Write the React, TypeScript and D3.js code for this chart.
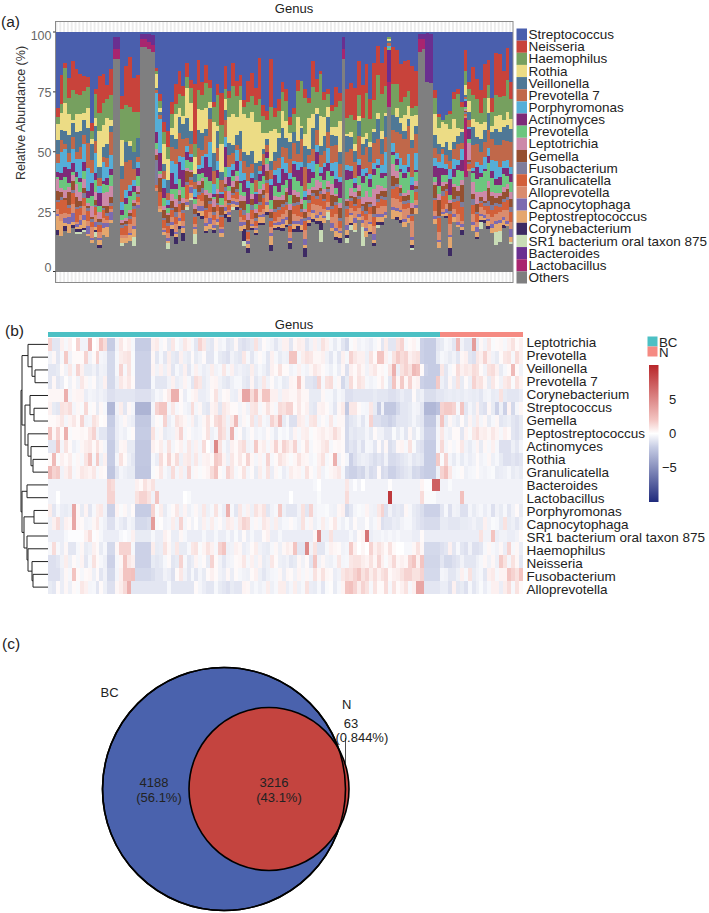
import React, { useEffect, useRef } from "react";
import * as d3 from "d3";

// (a) relative abundance per sample
const streptococcus = [33,18,12,20,10,15,18,18,18,35, 23,17,17,23,13,2,2,25,12,9, 16,16,1,1,1,1,13,18,37,39, 30,21,14,21,11,19,21,12,20,13, 17,27,19,30,10,25,11,19,19,29, 21,18,23,10,27,25,9,33,27,21, 23,30,29,18,19,19,23,10,15,13, 25,22,27,19,24,2,22,21,24,10, 23,11,27,11,5,12,5,2,5,6, 12,11,11,13,14,1,1,0.5,1,22, 31,38,37,30,24,22,25,9,24,12, 19,27,13,11,29,8,8,15,6,20];
const neisseria = [4,12,2,9,10,10,9,6,4,3, 2,14,12,6,9,0,0,5,14,18, 12,14,0,0,0,0,1,2,4,6, 5,8,8,4,5,3,24,13,5,7, 3,2,4,16,7,3,8,6,5,3, 9,10,7,16,4,3,16,4,5,4, 5,3,2,4,0,3,2,9,4,1, 3,2,2,7,3,0,11,13,14,12, 14,10,8,13,10,12,13,0,12,11, 14,14,12,16,13,0,0,0,0,3, 1,0,0,1,3,2,2,11,3,10, 8,11,14,10,6,16,16,10,12,7];
const haemophilus = [3,4,14,7,10,8,8,9,8,3, 10,7,9,8,9,0,0,12,13,12, 14,10,0,0,0,0,1,2,5,5, 6,4,5,8,4,6,5,8,6,10, 5,6,11,9,3,8,10,8,6,3, 7,7,7,9,6,4,8,5,9,8, 8,3,7,10,17,12,5,9,5,14, 7,5,6,7,8,0,6,7,10,7, 8,14,9,10,13,14,9,1,10,8, 6,7,6,3,3,0,0,0,0,6, 4,1,4,6,8,13,8,7,6,8, 9,5,10,5,6,8,7,9,12,8];
const rothia = [7,7,11,9,1,7,7,3,8,2, 3,14,9,11,2,0,0,10,0,2, 0,0,0,0,0,0,5,1,8,8, 3,10,3,3,11,11,7,9,9,8, 2,12,2,14,3,11,11,7,14,16, 16,17,17,15,6,2,10,10,2,7, 7,3,0,9,1,4,11,5,2,10, 8,4,3,3,12,0,1,2,3,2, 3,2,2,1,2,3,1,1,0,3, 2,6,5,9,4,0,0,0,0,8, 6,11,8,8,9,3,1,5,5,3, 6,7,3,6,3,5,6,3,5,4];
const veillonella = [6,4,5,8,5,8,7,6,6,6, 6,4,4,6,2,0,0,5,7,5, 6,7,0,0,0,0,1,1,3,5, 5,4,6,6,7,5,3,8,7,3, 4,7,6,4,3,5,3,4,8,4, 5,6,7,2,2,2,3,4,8,8, 4,6,4,5,4,7,2,7,5,3, 6,6,4,3,5,0,6,5,5,5, 5,3,6,4,7,6,7,1,5,5, 4,3,3,3,3,0,0,0,0,5, 4,1,6,4,3,3,4,1,4,6, 3,6,5,7,3,6,5,5,6,5];
const prevotella7 = [4,5,2,4,4,3,5,4,10,5, 5,3,2,4,8,0,0,9,10,9, 4,2,0,0,0,0,1,1,3,3, 6,6,8,7,3,4,3,7,2,7, 8,5,5,6,5,5,4,2,5,5, 6,4,5,2,4,2,3,4,4,4, 6,5,7,3,9,8,3,4,5,4, 5,6,6,6,5,0,5,7,7,8, 6,7,5,7,7,4,5,1,4,7, 9,10,11,11,7,0,0,0,0,4, 3,2,4,3,4,6,2,1,3,8, 7,6,6,7,9,6,8,8,7,10];
const porphyromonas = [4,9,7,3,5,5,8,7,9,4, 8,3,8,5,5,0,0,3,3,2, 2,2,0,0,0,0,14,10,4,2, 5,8,2,5,2,1,3,2,5,1, 9,4,3,1,3,4,2,4,9,3, 3,2,1,1,0,0,2,2,6,5, 4,2,1,3,2,2,2,4,2,2, 2,6,3,6,2,0,2,2,2,2, 3,2,2,2,2,3,7,1,3,2, 4,3,5,3,6,0,0,0,0,3, 2,6,2,4,4,2,4,1,1,1, 2,4,5,3,5,7,4,3,3,3];
const actinomyces = [2,3,4,6,3,2,2,4,3,5, 3,5,1,3,2,0,0,2,2,2, 2,3,0,0,0,0,4,5,4,1, 7,2,6,7,3,2,1,2,2,8, 5,1,3,2,6,4,2,4,1,5, 7,2,4,3,4,2,5,5,4,7, 3,6,5,4,7,1,5,2,4,1, 5,3,2,3,6,0,4,3,2,4, 3,1,3,2,1,2,1,0,1,2, 1,2,2,2,1,0,0,0,0,4, 7,3,3,6,3,2,4,3,5,1, 5,2,1,3,3,2,3,2,3,3];
const prevotella = [1,3,5,2,1,3,4,3,2,4, 5,2,4,3,4,0,0,2,5,5, 3,4,0,0,0,0,2,1,3,2, 2,4,4,4,3,3,2,3,2,5, 4,1,4,3,3,2,2,2,5,2, 4,5,2,3,3,2,3,4,2,4, 3,3,5,4,5,3,2,3,5,2, 4,4,3,2,2,0,7,4,2,3, 6,5,4,5,6,3,4,1,3,2, 5,6,7,5,3,0,0,0,0,2, 3,3,3,2,3,6,3,1,2,3, 5,7,8,7,6,3,3,5,3,4];
const leptotrichia = [5,2,3,2,2,5,4,4,1,4, 3,3,5,6,4,0,0,1,1,1, 1,2,0,0,0,0,2,1,2,1, 3,3,2,2,1,1,2,2,1,2, 2,3,2,1,2,4,2,2,3,2, 3,2,2,2,2,2,1,2,1,2, 2,2,2,2,2,1,2,1,3,2, 2,2,4,1,2,0,1,3,2,2, 3,4,2,6,3,2,1,0,4,2, 1,1,2,2,2,0,0,0,0,1, 2,2,1,1,1,2,2,1,8,4, 5,2,4,3,2,2,1,2,2,3];
const gemella = [4,2,1,6,3,4,2,2,1,1, 2,1,1,3,2,0,0,1,1,1, 1,1,0,0,0,0,2,4,3,3, 3,2,2,3,4,2,2,3,3,5, 1,2,3,4,1,1,2,3,3,4, 4,3,2,3,2,3,2,4,3,2, 4,5,3,2,2,2,2,1,2,1, 2,1,4,2,4,0,2,1,3,2, 1,3,1,3,2,2,2,0,3,2, 2,2,2,2,1,0,0,0,0,5, 6,2,2,3,5,2,6,1,1,2, 3,2,1,5,4,2,3,3,3,3];
const fusobacterium = [1,1,0,1,1,1,1,2,1,1, 1,1,1,1,1,0,0,1,1,1, 1,1,0,0,0,0,9,0,1,1, 1,2,1,1,1,1,1,1,2,1, 1,1,1,1,1,1,1,1,1,2, 1,2,1,1,1,1,1,1,1,1, 1,1,1,1,1,1,1,1,1,1, 1,1,1,1,1,0,1,1,1,1, 2,1,1,1,1,1,1,0,1,1, 1,1,1,1,1,0,0,0,0,1, 1,2,1,1,1,2,2,1,1,2, 1,1,1,2,2,1,1,1,1,2];
const granulicatella = [3,6,5,3,4,5,3,3,4,2, 3,3,3,2,1,0,0,3,3,2, 3,2,0,0,0,0,1,4,3,3, 3,3,3,3,5,2,3,2,3,3, 3,2,2,5,3,2,1,3,3,2, 3,4,2,3,4,3,2,4,3,3, 2,2,3,4,2,3,3,3,2,4, 3,4,3,3,3,0,3,3,2,3, 2,2,3,3,2,3,2,0,3,4, 2,2,2,2,3,0,0,0,0,4, 5,6,6,4,3,5,5,1,2,3, 3,2,2,3,3,3,2,3,4,4];
const alloprevotella = [2,3,2,1,3,1,2,4,2,4, 3,2,2,1,1,0,0,1,1,3, 3,1,0,0,0,0,1,1,1,2, 2,3,2,2,1,1,1,3,2,2, 2,2,3,1,2,1,1,1,2,1, 1,2,1,1,2,3,2,1,2,2, 3,2,3,2,1,3,2,2,3,2, 3,2,2,5,1,0,3,2,3,2, 2,3,3,3,2,3,2,0,3,3, 3,4,3,6,2,0,0,0,0,2, 3,1,2,4,2,3,1,1,1,3, 2,3,2,2,3,3,3,3,4,3];
const capnocytophaga = [1,0,2,3,3,1,2,2,3,1, 2,1,2,2,3,0,0,0,0,1, 1,1,0,0,0,0,0,0,1,1, 1,1,1,1,1,2,1,2,2,1, 2,1,1,2,1,1,1,1,2,1, 1,1,1,1,1,1,1,1,1,2, 1,1,1,1,2,2,1,1,1,1, 1,1,2,1,1,0,2,1,2,1, 1,1,1,2,1,1,1,0,1,1, 1,1,1,1,1,0,0,0,0,1, 1,1,2,1,1,1,1,0,0,1, 2,1,1,1,2,1,1,1,1,3];
const peptostreptococcus = [6,6,1,4,1,1,2,3,1,1, 1,2,3,4,1,0,0,2,2,2, 3,0,0,0,0,0,0,1,1,1, 2,1,2,2,1,2,2,1,2,2, 2,1,1,2,1,1,1,1,2,2, 2,1,1,2,2,2,3,1,1,2, 2,1,2,1,2,1,1,2,1,2, 2,1,1,2,2,0,2,3,3,1, 2,2,3,1,2,2,1,0,3,2, 3,2,2,2,2,0,0,0,0,2, 2,1,1,4,2,1,1,0,0,2, 2,2,1,2,2,3,3,2,1,2];
const corynebacterium = [2,0,2,0,1,1,1,1,0,0, 1,1,0,0,0,0,0,0,0,0, 0,0,0,0,0,0,0,0,0,0, 3,3,1,3,0,0,0,1,1,1, 0,1,0,0,1,2,0,1,0,5, 2,1,1,1,1,1,2,1,1,1, 1,2,1,2,1,3,1,1,1,3, 0,0,0,1,2,0,1,1,0,0, 0,0,1,1,1,1,0,0,0,1, 1,0,0,1,0,0,0,0,0,0, 0,0,1,3,0,0,2,0,0,0, 1,1,1,1,0,0,0,1,0,0];
const sr1Bacterium = [0,0,0,0,0,1,1,1,0,0, 2,0,0,0,0,0,0,1,0,0, 3,0,0,0,0,0,0,0,0,2, 0,0,0,0,1,1,4,0,0,0, 0,0,0,0,0,0,1,0,0,2, 0,0,0,0,0,0,0,0,0,0, 0,0,0,0,0,0,0,0,0,4, 0,3,0,0,0,0,2,2,1,0, 8,0,0,0,1,0,0,0,0,0, 0,0,0,1,0,0,0,0,0,0, 0,0,0,0,0,0,0,0,0,0, 0,3,0,0,0,5,4,0,0,1];
const bacteroides = [0,0,0,0,0,0,0,0,0,0, 0,0,0,0,0,5,5,0,0,0, 0,0,2,2,3,4,0,0,0,0, 0,0,0,0,0,0,0,0,0,0, 0,0,0,0,0,0,0,0,0,0, 0,0,0,0,0,0,0,0,0,0, 0,0,0,0,0,0,0,0,0,0, 0,0,0,0,0,5,0,0,0,0, 0,0,0,0,0,0,0,14,0,0, 0,0,0,0,0,2,2,20,20,0, 0,0,0,0,0,0,0,0,0,0, 0,0,0,0,0,0,0,0,0,0];
const lactobacillus = [0,0,0,0,0,0,0,0,0,0, 0,0,0,0,0,4,4,0,0,0, 0,0,3,3,3,3,0,0,0,0, 0,0,0,0,0,0,0,0,0,0, 0,0,0,0,0,0,0,0,0,0, 0,0,0,0,0,0,0,0,0,0, 0,0,0,0,0,0,0,0,0,0, 0,0,0,0,0,4,0,0,0,0, 0,0,0,0,0,0,0,11,0,0, 0,0,0,0,0,5,4,0,0,0, 0,0,0,0,0,0,0,30,0,0, 0,0,0,0,0,0,0,0,0,0];
const others = [16,15,16,17,15,15,16,16,14,11, 14,9,15,15,17,88,88,10,10,11, 9,24,93,93,90,87,29,17,15,9, 15,11,15,12,22,28,11,24,21,15, 15,15,17,17,16,21,22,24,18,11, 8,18,15,18,17,18,7,18,17,17, 18,8,15,15,15,5,16,17,15,10, 20,20,15,11,11,88,11,17,17,18, 11,12,15,9,15,18,18,72,17,17, 18,17,19,8,21,90,91,78,78,18, 9,24,24,6,20,17,13,48,48,14, 13,20,20,17,17,10,11,17,17,11];

const genusNames = ["Streptococcus", "Neisseria", "Haemophilus", "Rothia", "Veillonella", "Prevotella 7", "Porphyromonas", "Actinomyces", "Prevotella", "Leptotrichia", "Gemella", "Fusobacterium", "Granulicatella", "Alloprevotella", "Capnocytophaga", "Peptostreptococcus", "Corynebacterium", "SR1 bacterium oral taxon 875", "Bacteroides", "Lactobacillus", "Others"];
const genusColors = ["#4a5fad", "#c8433b", "#76a05f", "#ecdc85", "#4f7896", "#c0684a", "#55aed8", "#7e2a78", "#6cc67e", "#cc8aa9", "#955030", "#7e7d9c", "#d2603a", "#da8c6e", "#7c6ab0", "#e5a76e", "#3d2a63", "#c9dcb6", "#6a2f90", "#a8256f", "#7f7f80"];
const genusValues = [streptococcus, neisseria, haemophilus, rothia, veillonella, prevotella7, porphyromonas, actinomyces, prevotella, leptotrichia, gemella, fusobacterium, granulicatella, alloprevotella, capnocytophaga, peptostreptococcus, corynebacterium, sr1Bacterium, bacteroides, lactobacillus, others];
const yTicks = [0, 25, 50, 75, 100];

// (b) z-scored heatmap rows, same sample order as (a)
const heatLeptotrichia = [1.5,-1,-1,.5,-.3,.5,0,1.5,-.5,-.5, 3,0,.3,2,1.2,-2,-2,-.5,.8,.2, .5,-.3,-2,-2,-2,-2,.5,.7,-.3,.2, -.8,.8,-.2,-.5,.8,.4,-.3,-1,1.5,.8, -.8,-1,.3,-.5,-.3,-1,-.8,.3,-1,-1.2, -1,-.8,1,-.7,.2,-.3,-.5,-1,-.5,.5, .5,-1,.3,.6,.5,-1,-.5,.5,-.5,1, .5,-.3,-.8,-.3,-1,-1.5,-.2,.3,-.5,-.3, -.5,-.7,-.3,.2,-1,.6,-1,-1,1,1.5, -.3,.2,.4,-.2,-1.8,-2,-2,-2,-1,-.8, -.3,-.5,-1,2.5,-.5,-1,-1,4,-.8,.3, -.5,.8,-.2,.2,.3,-.3,.5,1,.2,.5];
const heatPrevotella = [-.5,.3,-1,-.3,1.8,-.5,.2,.2,.2,1.5, -.5,.2,1.5,-.4,-.5,-1.5,-1.5,-.3,.6,.8, 1,-.2,-1.8,-1.8,-1.8,-1.8,.3,-1,-.3,-1, .6,-.8,-1,.5,-.6,-.8,.2,-.8,-.5,.2, -1,-1,-.2,-.8,-1,-1.2,-.5,-.8,-1,.8, -.3,-1,-.4,.2,-.3,-1,.5,-.3,-.8,-.5, -.6,2,2,-.3,.6,1,.8,.3,.3,.5, -.5,-1,-.3,-1,.5,-.3,1.5,.8,.5,.5, -.6,1,.2,2,2,.5,-.3,1,1.8,1.2, 1.5,.5,.8,1,-1.8,-2,-2,-2,-.8,-.3, -.5,-.8,-.5,-1,.3,.5,-1,-1.2,.8,.5, 1.5,.5,-.5,-.8,.2,.8,1,-.3,1.2,.5];
const heatVeillonella = [-1,-1,-.8,.2,-.5,.8,-.3,1.5,.5,-.8, -.8,-.5,-1,-.5,-.6,-1.5,-1.5,-.3,1.5,-.3, 1,-.2,-1.8,-1.8,-1.8,-1.8,.4,-.5,.5,-.6, .5,-1,-.3,-.7,.5,-1,-.3,.5,-.4,-.7, -.5,.6,-.5,-.3,.8,-.3,.5,-.7,-.5,-.7, -.8,.6,-.7,-.3,-.6,-1,.5,.2,1,.2, .2,-.5,-.3,.5,-.3,-.5,.3,.8,.5,.2, -.3,-.6,-.2,-.7,.3,-1.2,.5,.2,.8,.3, -.5,.5,.8,.2,.3,-.2,.8,3,-.6,1,1.5, 1,2.5,2,.2,-1.8,-2,-2,-2,.8, -1,-.3,.2,1.2,.5,.8,.6,1.2,1,.2, -.5,1,1.2,.5,-.8,-.3,.2,2.5,.2,-.5];
const heatPrevotella7 = [-1,.3,-1,-.7,.1,-.5,.2,-.5,.8,.3, -.3,.2,-.8,-.6,.5,-1.5,-1.5,-.6,.8,.4, .8,.2,-1.8,-1.8,-1.8,-1.8,-.3,-1,-1,-1, -.5,.5,-.7,-.5,.4,-.3,-1,1.2,.8,-.8, -.5,.3,.4,-.5,-.8,-1,-.6,-.3,-.3,-.8, -1,.4,-1,-.6,.8,-.5,.2,-.6,-.3,-.8, -.7,.4,.3,2,.3,-1,-1,-1.2,1.5,-.3, 1,1.2,-.3,.3,-1.5,-.8,1.2,.2,1,.7, -.3,-.5,-.3,.2,.7,-.2,-1,2,.3,1.8, .3,1.5,.3,.5,-1.8,-2,-2,-2,1.8,-.6, -1,.3,-.7,1,-.8,.2,-.6,1.5,.8,1, .3,-.8,.8,.2,-.5,.7,1,-.2,1,.4];
const heatCorynebacterium = [.3,.3,.3,.3,3,-.4,.3,.4,.4,-.7, -.4,-.5,-.7,-.5,-.7,-1.2,-1.2,-1,-1,-1, -1,-1,-1.2,-1.2,-1.2,-1.2,-.8,-.3,-.5,.2, .7,3,3,.2,-.7,-.2,.3,.5,-.7,-.7, -.5,.2,1,-.5,.2,.3,-.6,-.7,.4,3.5, 3.5,1.2,2.5,.5,2,2,.5,.5,-.5,.5, .5,.3,.3,.8,.3,.3,-.8,-.8,-.8,.3, -.3,-.3,-.8,-.3,-.5,-1.2,-1.2,-1,-1,-1, -1,-1,-.8,-1,-1,-1,-1.2,-1.2,-1,-.7,-1, -1,.2,-.8,-.6,-1.3,-1.3,-1.3,-1,-1, -.8,-.7,-.8,-.7,-.8,-.6,-.7,-.8,-.7,-1, -.5,-.4,-.8,-.7,1,-.8,-1,-1,-1,-.7];
const heatStreptococcus = [.5,-.8,-1,1,.8,1.2,-.4,.3,-.2,1.3, -.2,.2,-.8,.3,-.3,-3,-3,-.5,.6,-1, .3,-.4,-3.2,-3.2,-3.2,-3.2,-.4,1.5,2,2, -.4,.8,-.3,.2,-.4,-.6,1.2,-.4,.3,-.8, -1,.4,.6,-1,.8,.5,.2,.2,-.4,.3, -.5,.8,1,-.3,.3,1,.3,-.3,1.2,1, 1.5,1.5,.2,.8,.2,.5,-.8,-1,.4,.5, .2,-.4,-1,.3,.7,-2.2,.8,.8,.2,-.3, -.4,.8,-.8,-2,-.5,-2.2,-2.2,-2.2,-1.5,-1,-1, -.8,-.4,-.5,-1,-3,-3,-3,-2.5,1.5, 1.8,1.8,1.5,-.3,2,-1,-.4,-.8,.5,-1, -1.2,.3,-.8,-1.8,-.6,-1.8,.4,-1.5,-.4,.3];
const heatGemella = [.2,.2,.4,.8,-.4,.4,.8,.2,1.5,-.5, -.4,1,.6,.1,.2,-2,-2,-.7,-.4,.3, -.5,-.7,-2.2,-2.2,-2.2,-2.2,-.5,.2,-.2,1.5, -.7,-.3,1,.6,.3,-.3,.5,-.8,-.4,.3, 1,.2,1.2,1.5,.8,-.5,.7,2.5,-.5,.3, -.2,1,-.7,.8,-.3,-.5,1.5,.8,2.5,-.8, -.3,-1.2,-1.2,.7,.5,-.4,.8,1,-.4,.2, -.3,.8,-.3,.3,.3,-1.5,-1,-.8,-.4,-1, -.3,1.5,-1.2,-1.2,-1.5,-1.5,-1.8,-1.5,-1,-1,-1, -.8,-.4,-.8,-1,-2.2,-2.2,-2.2,-.6,2, -.8,.3,-.5,-.8,.2,-.8,.4,-.6,.7,-.4, .3,-.8,-.3,.3,-1,-.8,-.6,-1,-1.2,-.8];
const heatPeptostreptococcus = [2,.3,1.5,.2,3,-.2,.2,.2,.3,.2, .8,1.5,-.5,-1,-1,-1.8,-1.8,-.7,-.4,-.6, -.2,.2,-2,-2,-2,-2,1,-.3,.3,-.8, -.6,-.5,.5,1.5,-.3,.2,-.4,-.5,-.4,.2, 1,-.6,-.3,1.5,1,-.5,3,-.3,.2,-.8, -.4,.2,-.5,-.3,-.5,.2,-.3,-.8,-.2,-.4, -.2,-.7,.4,-.3,.5,.6,-.2,.2,.4,.6, .3,.5,1.2,.6,.2,-1.5,-.8,-1,-.8,-.8, -.4,-.8,.2,-.5,-.5,-1,-1,-.2,-.8,-.3,-1, .3,-.8,-.2,-.8,-1.8,-1.8,-1.8,-.4,.8, -.4,-.6,.2,.2,-1,.4,-.2,.8,1.2,.5, .6,.3,.8,.4,-.3,.5,.2,-1,-1.2,-.8];
const heatActinomyces = [-1,-1,2,-.4,1,.2,-.6,-.3,.3,.6, .8,.2,1,.3,-.4,-2,-2,-.8,.3,.4, -.8,-.8,-2.2,-2.2,-2.2,-2.2,.5,.2,.6,-.3, 1,-.4,.2,.5,-.3,.8,-.5,.5,-.4,1.2, 0,-.5,5,1,-.3,-.7,.5,.2,.8,1.2, -.5,-.4,1.8,.3,.6,-.3,.4,1.5,.3,1.5, 1,.5,1.5,-.4,.2,1,-.3,.2,.3,.7, 1,-.3,.2,.3,.2,-1.5,-1,-1.2,-.6,-1.2, -.3,-.4,-1,.2,-1,.3,-1.3,-1,.3,.4,-.3, 1,-.2,-1,-1.2,-2,-2,-2,-.3,1.3, -.4,.2,-.3,.2,.8,-.5,-.8,-.4,.4,-.8, .3,-.3,.5,-.3,-1.2,-1.2,-1.2,-.6,-1,-.4];
const heatRothia = [.2,2.5,-.2,.5,.2,.6,-.2,.3,-.3,.9, 2,-.3,1.8,-.6,.5,-2,-2,-.4,1,.2, -.6,-1,-2.2,-2.2,-2.2,-2.2,-.3,-.7,1.2,.2, 1.5,.3,1.2,-.6,.6,.8,-.5,.8,-.4,.4, .5,.2,1.8,1.5,.4,-.6,.8,.2,.8,.2, 1.5,.3,-.4,.4,-.3,1.5,-.3,.2,1,.6, .3,-.2,.3,1,.4,.3,-.4,-.2,.5,1, -.3,.2,3,-.5,.2,-.4,-1.8,-1.2,-.8,-.6, -.7,-1,-1.3,-1,-1.2,-.5,-1.4,-1.4,-1.2,-1,-.8, -.5,-1,-.8,-1,-2,-2,-2,1.8,-.2, 1.5,-.4,-.8,-.3,-.8,-.4,-.7,-.5,.2,-.5, -.3,.3,-.6,-.3,-.8,-1.2,-1.2,-1,-1.2,-1];
const heatGranulicatella = [2.5,1.5,1.8,-.5,.5,1,-.3,.3,.8,.6, .4,.8,-.3,.3,.2,-2.3,-2.3,-1,-.4,-.6, -.8,-.8,-2.3,-2.3,-2.3,-2.3,-.2,.2,.8,-.3, -.6,1.2,-.4,.6,-.5,1.5,-.3,.3,-.2,.2, .4,1.2,2,.2,-.3,1.5,.8,-.3,.2,1, -.4,.2,-.8,.6,-.3,1,-.7,.3,-.2,-.7, -.4,.6,.3,.4,-.3,1,.2,-.3,.6,-.5, -.2,.3,.5,.8,-.3,-1.5,-1.8,-1.8,-1.4,-1.6, -.8,-1.4,-1.2,.2,-1.4,-1.2,-1.8,-1.8,-1.4,-1.2,-1, -.8,-1.5,-1.4,-1.8,-2,-2,-2,-.6,1.5, 2.2,.8,-.3,-.2,.2,-.6,-.4,-.3,.2,-.4, -.5,-.3,-.2,-.8,-.7,-.6,-.3,-.8,-.6,-.8];
const heatBacteroides = [-.5,-.5,-.5,-.5,-.5,-.5,-.5,-.5,-.5,-.5, -.5,-.5,-.5,-.5,-.5,1.5,1.2,-.5,-.5,-.5, -.5,-.5,.5,.2,1,.5,1,-.5,-.5,-.5, -.5,-.5,-.5,-.5,-.5,-.5,-.5,-.5,-.5,-.5, -.5,-.5,-.5,-.5,-.5,-.5,-.5,-.5,-.5,-.5, -.5,-.5,-.5,-.5,-.5,-.5,-.5,-.5,-.5,-.5, -.5,-.5,-.5,-.5,-.5,-.5,-.5,-.3,0,-.5, -.5,-.5,-.5,-.5,-.5,.8,-.5,-.1,-.5,0, -.5,-.5,-.5,-.5,-.5,-.5,.1,-.5,-.5,-.5,-.5, -.5,-.5,-.5,.4,-.1,-.1,7,7,-.5, -.5,-.2,-.5,-.5,-.5,-.5,-.5,-.5,-.5,-.5, -.5,-.5,-.5,-.5,-.5,-.5,-.5,-.5,-.5,-.5];
const heatLactobacillus = [-.5,-.5,0,-.5,-.5,-.5,-.5,-.5,-.5,-.5, -.5,-.5,-.5,-.5,-.5,1.5,1.5,-.5,-.5,-.5, -.5,-.5,1,1.5,1.5,1,-.5,2,-.5,-.5, -.5,-.5,-.5,-.5,0,-.2,-.5,-.5,-.5,-.5, -.5,-.5,-.5,-.5,-.5,-.5,-.5,-.5,-.5,-.5, -.5,-.5,-.5,-.5,-.5,-.5,-.5,-.5,-.5,-.5, -.5,0,-.5,-.5,-.5,-.5,-.5,-.5,-.2,-.5, -.5,-.5,-.5,-.5,-.5,1.2,-.5,-.5,-.5,-.5, -.5,-.5,-.5,-.5,-.5,-.5,9,-.5,-.5,-.5,-.5, -.5,-.5,-.5,1.2,-.2,-.2,-.2,-.5,-.5, -.5,-.5,-.5,-.5,2.2,-.5,-.5,-.5,-.5,-.5, -.5,-.5,-.5,-.5,-.5,-.5,-.5,-.5,-.5,-.5];
const heatPorphyromonas = [.6,-1,-.3,-.7,-.8,-.6,3.5,.3,-.8,.4, -1,-.3,.6,.8,-.5,-1.8,-1.8,.4,-.2,.3, -.5,.2,-2,-2,-2,-2,1.5,-.2,.6,-.8, -.3,.2,.8,-.5,.4,-.6,-.3,.3,-.5,.8, -.6,-.3,1,-.3,-.7,3,-.3,-1,.8,-.4, .5,-.6,1,.5,1,-1,-.5,-.3,1.8,-.6, -1,-1,-1,-.5,1,-1,1.5,-.5,-.3,-.3, -.2,-.5,-.6,.3,.5,-1.5,-1,-.4,-.2,-.3, .4,-.5,-.6,.8,1.5,-1.2,-.5,-1,-.8,-1,.3, -.3,-.8,-1,-1.3,-1.8,-1.8,-1.8,-1.8,-1, -.3,-1.2,-.5,-.6,-1.2,-1.2,-.4,-.8,-.5,-.3, -.7,-.4,-1.2,-.5,-.8,-.3,-1,-.5,.2,-.8];
const heatCapnocytophaga = [-.6,.5,1.2,-.8,.5,.3,3.5,.3,.2,-.5, -.4,.3,.8,-.3,-.6,-1.2,-1.2,-.4,-.7,-1, -.4,-.6,-1.5,-1.5,-1.5,-1.3,4,-.2,.1,-.5, -.4,.6,-.5,1.5,-.4,.2,-.5,.1,-.6,.5, -.4,.6,-.3,.2,-.5,.7,.5,-.4,.8,1.5, 1.2,-.3,.3,-.3,.8,.5,-.5,.6,-.6,-.3, -.3,.2,-.3,-.6,1,-.3,.4,-.6,-.3,.6, -.4,.2,.8,-.3,-.6,-.2,-.7,.2,-.5,-.5, .1,-.6,-.3,.4,-1.2,-1,-1,-.7,-.8,-.5,-.3, -.3,-.7,-1,-1.2,-1.4,-1.4,-1.4,-1.4,-.8, -.8,-1,-1,-1,-.8,-.8,-.7,-.5,-.8,-.8, .5,-.5,-.2,-.3,-.8,1,-.8,-.6,-1,-.5];
const heatSr1 = [-.7,-.7,-.7,-.7,-.3,-.1,-.1,-.1,-.1,.5, 1.2,-.1,.2,-.3,-.7,-.7,-.7,-.7,-.3,-.1, -.3,.5,-.8,-.8,-.8,-.8,-.3,-.7,-.7,.5, .2,-.7,-.7,.3,-.3,-.7,-.7,-.7,-.7,-.3, -.7,-.7,-.3,-.7,-.7,-.3,-.7,-.2,-.7,.2, -.7,-.3,-.7,-.7,.2,.5,-.7,-.7,-.3,-.7, -.7,-.7,-.7,-.7,-.7,-.7,-.7,.3,5,-.7, -.7,1,-.7,-.7,-.7,-.7,-.3,-.7,.2,.4, 6,-.7,-.5,-.5,-.3,-.5,-.3,-.5,-.3,-.5,-.5, -.5,-.7,-.7,.2,-.7,-.7,-.7,-.7,-.7, -.7,-.7,-.7,-.7,-.7,-.7,-.7,-.7,-.7,1, -.5,-.5,2,-.7,-.5,-.5,-.7,-.7,-.5,.2];
const heatHaemophilus = [-.3,1.2,-.3,-.7,.3,-1,-1,-.3,.3,-.8, -.6,.5,.2,-.8,-.3,-1.5,-1.5,.3,1.5,1.5, 1.5,-.3,-1.8,-1.8,-1.8,-1.8,.6,-.8,-.7,1, .3,-.6,.8,-.8,-.8,-.3,.8,1,-.2,.4, 1,.5,-.3,1.5,2,-.6,-.5,.5,.3,-.7, -.5,.2,.6,-.5,-.7,-.8,-.3,.3,-.6,.3, .6,.4,2,-1,-1,5,-.5,1,-1,-1, -.3,.5,.3,.2,-.5,-.4,1.8,.5,0,.3, 0,1.5,.5,1,.6,.2,1,.2,0,0,-.3, -.3,.3,1,.3,-1.5,-1.5,-1.5,-1.5,-1.2, -1,.5,-1,-.3,-1,-1.2,-.5,-1.2,-1.2,-1, -.3,.3,-.3,-.5,.3,-.7,1.5,-.3,.3,-.7];
const heatNeisseria = [-1.2,-1.2,-1,-.5,.6,-.6,.2,-.3,.4,-1, -.3,1,.2,-.3,-.6,-1.8,-1.8,-.3,.3,2, .8,.5,-1.8,-1.8,-1.8,-1.8,-.8,-1,-.8,-.3, .2,-1,-.8,1.5,-.3,-1,-.7,.4,-.3,.2, -.8,1.5,.2,-.5,-1,-.5,-.4,.2,.3,.8, -.3,.5,-.5,.4,-.8,-.6,.8,.2,-.6,-.7, -.5,-1,-.8,.3,-.5,.2,-1,2,-.5,.3, -.5,-.6,-.3,.8,-.4,-.3,.8,1,1,.6, .4,1,.3,1.5,.5,-.2,.5,1.3,.3,.5,.3, 1.5,2,.5,2,-1.6,-1.6,-1.6,-1.6,-1, -1.5,-1.5,-1.2,-1,-.5,-1,-1,-1,-.6,-.3, .3,-.5,.3,-.6,1.8,1,-.4,1,.3,-1];
const heatFusobacterium = [-1.2,-1.2,-1.2,-.7,.3,-.3,2,.2,-.3,.2, .3,-.6,.2,-1,-.5,-1.5,-1.5,-.4,.5,2, 2,2.2,-1.5,-1.5,-1.5,-1.5,-1.3,-1,-1,-.5, -.7,-1.2,.2,.8,-.5,-1,-.3,-1,-.4,-.8, .2,.5,.2,-.5,-.7,.3,-.7,.2,-.3,-.5, -.6,.2,.5,-.6,-1,-.6,-.4,-.3,.3,-.7, .3,.2,-.5,.4,-.3,.3,-.3,1,.3,1, .3,.2,-.7,-.5,.8,1.2,1,1.5,2,1, 1.5,.6,1.2,.5,1,1.3,.2,.5,.6,1,1.5, 1.5,1,1,1.5,-1.5,-1.5,-1.5,-1.5,-.4, -.5,-1,-1,-.6,.5,-.3,1,-.8,-.5,-.3, -1,.5,.7,-.3,.4,.4,2,1.5,1,2];
const heatAlloprevotella = [-.8,-1,.2,-.7,.3,-.6,.2,-.2,.8,.5, -.4,-.3,-1,.2,-.6,-1.2,-1.2,.3,.6,1.3, 3,-1,-1,-1,-1,-1,-1,-1,-1,-1, -.3,-1,-1,-1,-1,-1,-1,.2,-.4,-.7, -1,-1,-.3,-.8,-1,-1.2,-.8,-1,-1,.4, .3,-.6,-.3,-.6,-.4,.6,-.6,-.3,.6,.6, -.7,-.4,.6,-.6,-.3,1,-.7,-.8,-.3,-1, -.2,.1,-.8,-.3,.4,2,2.2,1.5,.6,1.5, 1,-.3,1,.2,.2,1.2,-.3,1,.2,.5,1, -.3,.5,3.5,3.5,-1,-1,-1,-1,-.7, -.7,-1.2,.5,-1,-.8,-1.2,-.3,-1,-.6,-.2, -.7,-.3,.5,.5,-.7,.6,1.2,-.3,1,.2];

const heatNames = ["Leptotrichia", "Prevotella", "Veillonella", "Prevotella 7", "Corynebacterium", "Streptococcus", "Gemella", "Peptostreptococcus", "Actinomyces", "Rothia", "Granulicatella", "Bacteroides", "Lactobacillus", "Porphyromonas", "Capnocytophaga", "SR1 bacterium oral taxon 875", "Haemophilus", "Neisseria", "Fusobacterium", "Alloprevotella"];
const heatRows = [heatLeptotrichia, heatPrevotella, heatVeillonella, heatPrevotella7, heatCorynebacterium, heatStreptococcus, heatGemella, heatPeptostreptococcus, heatActinomyces, heatRothia, heatGranulicatella, heatBacteroides, heatLactobacillus, heatPorphyromonas, heatCapnocytophaga, heatSr1, heatHaemophilus, heatNeisseria, heatFusobacterium, heatAlloprevotella];
const bcSamples = 99;
const colorTicks = [5, 0, -5];

// row dendrogram, "h" is the merge height
const rowTree = { h: 27, children: [
  { h: 26, children: [
    { h: 20, children: [{ leaf: 0 }, { h: 16, children: [{ leaf: 1 }, { h: 13, children: [{ leaf: 2 }, { leaf: 3 }] }] }] },
    { h: 23, children: [
      { h: 18, children: [{ leaf: 4 }, { h: 14, children: [{ leaf: 5 }, { leaf: 6 }] }] },
      { h: 20, children: [{ leaf: 7 }, { h: 17, children: [{ leaf: 8 }, { h: 15, children: [{ leaf: 9 }, { leaf: 10 }] }] }] },
    ] },
  ] },
  { h: 26, children: [
    { h: 21, children: [{ leaf: 11 }, { leaf: 12 }] },
    { h: 24, children: [
      { h: 14, children: [{ leaf: 13 }, { leaf: 14 }] },
      { h: 21, children: [{ leaf: 15 }, { h: 20, children: [{ leaf: 16 }, { h: 16, children: [{ leaf: 17 }, { h: 15, children: [{ leaf: 18 }, { leaf: 19 }] }] }] }] },
    ] },
  ] },
] };

// (c) Venn counts
const vennLabels = [
  { line1: "4188", line2: "(56.1%)", x1: 154, x2: 159 },
  { line1: "3216", line2: "(43.1%)", x1: 274, x2: 279 },
];

const FONT = "'Liberation Sans', Arial, sans-serif";

const App = () => {
  const ref = useRef<SVGSVGElement>(null);

  useEffect(() => {
    const svg = d3.select(ref.current);
    svg.selectAll("*").remove();
    svg.style("font-family", FONT);

    const label = (t: string, x: number, y: number, size = 13, anchor = "start", fill = "#222") =>
      svg.append("text").text(t).attr("x", x).attr("y", y).attr("font-size", size)
        .attr("text-anchor", anchor).attr("dominant-baseline", "central").attr("fill", fill);

    label("(a)", 1, 21, 15.5);
    label("(b)", 5, 330, 15.5);
    label("(c)", 2, 643, 15.5);

    // ---- (a) stacked bars
    const sampleIds = d3.range(streptococcus.length);
    const x = d3.scaleBand<number>().domain(sampleIds).range([55.5, 513]);
    const y = d3.scaleLinear().domain([0, 1]).range([271.5, 32]);

    label("Genus", 294, 8, 13, "middle");

    // facet strips above and below the bars
    [[21.5, 10.5], [272, 11]].forEach(([top, h]) => {
      svg.append("g").selectAll("rect").data(sampleIds).enter().append("rect")
        .attr("x", d => x(d)!).attr("y", top)
        .attr("width", x.bandwidth() / 2).attr("height", h).attr("fill", "#ececec");
    });

    const order = d3.range(genusNames.length).reverse();
    const stack = d3.stack<number, number>()
      .keys(order)
      .value((d, k) => genusValues[k][d])
      .offset(d3.stackOffsetExpand);
    svg.append("g").attr("shape-rendering", "crispEdges")
      .selectAll("g").data(stack(sampleIds)).enter().append("g")
      .attr("fill", d => genusColors[d.key])
      .selectAll("rect").data(d => d).enter().append("rect")
      .attr("x", d => x(d.data)!)
      .attr("y", d => y(d[1]))
      .attr("width", x.bandwidth() + 0.3)
      .attr("height", d => y(d[0]) - y(d[1]));

    svg.append("rect").attr("x", 55.5).attr("y", 21.5).attr("width", 457.5).attr("height", 261)
      .attr("fill", "none").attr("stroke", "#8a8a8a").attr("stroke-width", 1);

    yTicks.forEach(t => {
      const ty = y(t / 100);
      svg.append("line").attr("x1", 53).attr("x2", 55.5).attr("y1", ty).attr("y2", ty).attr("stroke", "#333");
      label(String(t), 51.5, ty + (t === 100 ? 3.5 : t === 0 ? -4 : 1), 12.5, "end", "#666");
    });
    label("Relative Abundance (%)", 0, 0, 12.5, "middle", "#333")
      .attr("transform", "translate(21,113) rotate(-90)");

    const legendY = d3.scaleBand<number>().domain(d3.range(genusNames.length)).range([28.5, 283.5]);
    genusNames.forEach((name, i) => {
      svg.append("rect").attr("x", 516.5).attr("y", legendY(i)!).attr("width", 10.5)
        .attr("height", legendY.bandwidth()).attr("fill", genusColors[i]);
      label(name, 528.5, legendY(i)! + legendY.bandwidth() / 2, 13.5);
    });

    // ---- (b) heatmap
    const hx = d3.scaleBand<number>().domain(sampleIds).range([48, 523]);
    const hy = d3.scaleBand<number>().domain(d3.range(heatNames.length)).range([338, 593.5]);
    const heatColor = d3.scaleLinear<string>().domain([-10, -2, 0, 2, 10])
      .range(["#1f2a7c", "#c6cce4", "#ffffff", "#f3c4c1", "#b8262a"]);

    label("Genus", 294, 324.5, 13, "middle");

    svg.append("g").attr("shape-rendering", "crispEdges").selectAll("rect").data(sampleIds).enter().append("rect")
      .attr("x", d => hx(d)!).attr("y", 332).attr("width", hx.bandwidth() + 0.3).attr("height", 5)
      .attr("fill", d => (d < bcSamples ? "#4cc0c4" : "#f58a82"));

    heatRows.forEach((row, r) => {
      svg.append("g").attr("shape-rendering", "crispEdges").selectAll("rect").data(row).enter().append("rect")
        .attr("x", (_, i) => hx(i)!).attr("y", hy(r)!)
        .attr("width", hx.bandwidth() + 0.3).attr("height", hy.bandwidth() + 0.3)
        .attr("fill", d => heatColor(d));
    });

    const heatLabelY = d3.scaleLinear().domain([0, 19]).range([342.5, 589.5]);
    heatNames.forEach((name, i) => label(name, 526.5, heatLabelY(i), 13.5));

    // dendrogram
    const root = d3.hierarchy<any>(rowTree);
    const treeX = (h: number) => 48 - h;
    const nodeY = (n: any): number =>
      n.children ? (nodeY(n.children[0]) + nodeY(n.children[n.children.length - 1])) / 2
        : hy(n.data.leaf)! + hy.bandwidth() / 2;
    const nodeH = (n: any): number => (n.children ? n.data.h : 0);
    const treePath = d3.path();
    root.descendants().forEach((n: any) => {
      if (!n.children) return;
      const px = treeX(nodeH(n));
      n.children.forEach((c: any) => {
        treePath.moveTo(px, nodeY(c));
        treePath.lineTo(treeX(nodeH(c)), nodeY(c));
      });
      treePath.moveTo(px, nodeY(n.children[0]));
      treePath.lineTo(px, nodeY(n.children[n.children.length - 1]));
    });
    svg.append("path").attr("d", treePath.toString()).attr("fill", "none")
      .attr("stroke", "#222").attr("stroke-width", 1);

    // annotation legend + colour bar
    svg.append("rect").attr("x", 647.5).attr("y", 336.5).attr("width", 10).attr("height", 10).attr("fill", "#4cc0c4");
    svg.append("rect").attr("x", 647.5).attr("y", 346.5).attr("width", 10).attr("height", 10).attr("fill", "#f58a82");
    label("BC", 659, 342, 13.3);
    label("N", 659, 352, 13.3);

    const barY = d3.scaleLinear().domain([-10, 10]).range([502, 365]);
    const defs = svg.append("defs");
    const grad = defs.append("linearGradient").attr("id", "heatRamp").attr("x1", 0).attr("x2", 0).attr("y1", 1).attr("y2", 0);
    [-10, -2, 0, 2, 10].forEach(v => {
      grad.append("stop").attr("offset", (v + 10) / 20).attr("stop-color", heatColor(v));
    });
    svg.append("rect").attr("x", 649).attr("y", barY(10)).attr("width", 9.5)
      .attr("height", barY(-10) - barY(10)).attr("fill", "url(#heatRamp)");
    colorTicks.forEach(t => label(t < 0 ? `\u2212${-t}` : String(t), t < 0 ? 662 : 669, barY(t), 13));

    // ---- (c) Venn
    svg.append("circle").attr("cx", 224).attr("cy", 789).attr("r", 121.5)
      .attr("fill", "#4a62ad").attr("stroke", "#000").attr("stroke-width", 1.6);
    svg.append("ellipse").attr("cx", 269).attr("cy", 789).attr("rx", 80).attr("ry", 81.5)
      .attr("fill", "#c4443f").attr("stroke", "#000").attr("stroke-width", 1.6);
    svg.append("circle").attr("cx", 224).attr("cy", 789).attr("r", 121.5)
      .attr("fill", "none").attr("stroke", "#000").attr("stroke-width", 1.6);
    svg.append("line").attr("x1", 345.5).attr("x2", 345.5).attr("y1", 738).attr("y2", 764)
      .attr("stroke", "#222").attr("stroke-width", 0.8);

    label("BC", 100.5, 692.5, 13);
    label("N", 342, 704.5, 13);
    label("63", 351, 723, 13, "middle");
    label("(0.844%)", 335.5, 737, 13);
    vennLabels.forEach(v => {
      label(v.line1, v.x1, 782, 13, "middle");
      label(v.line2, v.x2, 797, 13, "middle");
    });
  }, []);

  return (
    <svg ref={ref} width={709} height={913}
      style={{ position: "absolute", left: 0, top: 0, display: "block", background: "#fff" }} />
  );
};

export default App;
